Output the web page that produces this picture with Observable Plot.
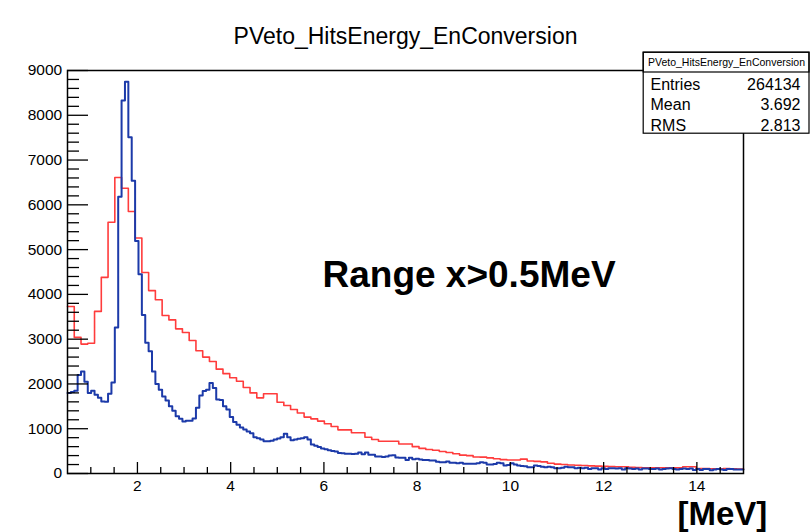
<!DOCTYPE html>
<html><head><meta charset="utf-8">
<script src="https://cdn.jsdelivr.net/npm/d3@7"></script>
<script src="https://cdn.jsdelivr.net/npm/@observablehq/plot@0.6"></script>
<style>body{margin:0;background:#fff;} #chart svg{overflow:visible;}</style>
</head><body><div id="chart"></div>
<script>
const title = "PVeto_HitsEnergy_EnConversion";
const xMin = 0.5, xMax = 15;
const redCounts = [3730,3040,2890,2910,3620,4380,5610,6610,6370,5850,
5260,4490,4085,3880,3530,3430,3230,3150,2970,2740,
2600,2500,2330,2230,2140,2060,1920,1800,1690,1780,
1780,1590,1520,1430,1350,1260,1220,1170,1110,1050,
975,975,910,910,810,760,720,720,720,660,
660,600,560,535,520,490,470,440,410,400,
370,365,350,330,310,300,300,320,280,270,
260,230,210,200,190,185,180,170,165,160,
155,150,150,140,135,130,130,130,130,125,
125,150,150,110,110,105,105,110,105,100];
const blueCounts = [1800,1820,1850,2200,2280,2050,1800,1850,1760,1690,
1610,1600,1780,2030,3260,6180,8330,8750,7510,6540,
5190,4450,3540,2920,2730,2280,2000,1870,1720,1630,
1500,1400,1280,1220,1160,1180,1180,1230,1470,1740,
1840,1870,2020,1910,1650,1640,1500,1430,1260,1150,
1090,1030,980,940,900,810,790,760,720,720,
730,760,780,810,885,810,740,760,775,790,
810,760,650,620,590,560,540,520,500,490,
460,450,440,440,435,440,470,430,470,420,
420,380,380,370,380,400,410,360,350,350,
300,350,320,330,310,300,300,290,290,260,
250,250,270,240,240,230,240,220,215,215,
215,230,250,240,200,200,210,240,230,180,
190,230,200,180,170,160,140,140,180,170,
150,140,150,140,120,120,130,150,140,140,
120,130,120,130,100,120,120,90,120,100,
120,120,110,120,90,120,110,100,110,90,
110,110,100,100,110,90,100,110,120,100,
90,100,110,100,110,80,100,80,100,100,
70,90,100,90,80,100,100,90,90,90];
const yMajorTicks = [0,1000,2000,3000,4000,5000,6000,7000,8000,9000];
const xMajorTicks = [2,4,6,8,10,12,14];
const statsLabels = ["Entries","Mean","RMS"];
const statsValues = ["264134","3.692","2.813"];
const annotation = "Range x>0.5MeV";
const unitLabel = "[MeV]";

const yMinorTicks = d3.range(0, 9001, 200).filter(v => v % 1000 !== 0);
const xMinorTicks = d3.range(1, 15, 0.5).filter(v => v % 2 !== 0);

function toSteps(counts) {
  const w = (xMax - xMin) / counts.length;
  const pts = counts.map((c, i) => ({x: xMin + i * w, y: c}));
  pts.push({x: xMax, y: counts[counts.length - 1]});
  return pts;
}
const redSteps = toSteps(redCounts);
const blueSteps = toSteps(blueCounts);

const font = "'Liberation Sans', Arial, Helvetica, sans-serif";
const rowBaselines = [89, 109.5, 130];

const chart = Plot.plot({
  width: 810, height: 532,
  marginLeft: 67, marginRight: 67, marginTop: 70, marginBottom: 59,
  style: {fontFamily: font, background: "white", color: "black"},
  x: {domain: [xMin, xMax]},
  y: {domain: [0, 9000]},
  marks: [
    Plot.lineY(redSteps, {x: "x", y: "y", curve: "step-after", stroke: "#ff3c3c", strokeWidth: 1.6}),
    Plot.lineY(blueSteps, {x: "x", y: "y", curve: "step-after", stroke: "#1c3aa9", strokeWidth: 2}),
    Plot.axisY(yMajorTicks, {anchor: "left", tickSize: -21, tickPadding: 26.3, tickFormat: "d", fontSize: 15.5, stroke: "black", strokeWidth: 1.3, fill: "black", label: null}),
    Plot.axisY(yMinorTicks, {anchor: "left", tickSize: -12, tickFormat: null, text: null, stroke: "black", strokeWidth: 1.3, label: null}),
    Plot.axisX(xMajorTicks, {anchor: "bottom", tickSize: -11, tickPadding: 17, tickFormat: "d", fontSize: 15.5, stroke: "black", strokeWidth: 1.3, fill: "black", label: null}),
    Plot.axisX(xMinorTicks, {anchor: "bottom", tickSize: -6, tickFormat: null, text: null, stroke: "black", strokeWidth: 1.3, label: null}),
    Plot.frame({stroke: "black", strokeWidth: 1.5}),
    // stats box
    Plot.frame({fill: "white", stroke: "black", strokeWidth: 1.2, insetLeft: 575.7, insetTop: -18.3, insetRight: -65.5, insetBottom: 340.3}),
    Plot.frame({fill: "none", stroke: "black", strokeWidth: 1.2, insetLeft: 575.7, insetTop: -18.3, insetRight: -65.5, insetBottom: 401.5}),
    Plot.text([title], {frameAnchor: "top-left", dx: 659, dy: -4.3, textAnchor: "middle", lineAnchor: "bottom", fontSize: 10.5, fill: "black"}),
    ...statsLabels.map((s, i) => Plot.text([s], {frameAnchor: "top-left", dx: 583, dy: rowBaselines[i] - 70, textAnchor: "start", lineAnchor: "bottom", fontSize: 16, fill: "black"})),
    ...statsValues.map((s, i) => Plot.text([s], {frameAnchor: "top-left", dx: 733, dy: rowBaselines[i] - 70, textAnchor: "end", lineAnchor: "bottom", fontSize: 16, fill: "black"})),
    // title
    Plot.text([title], {frameAnchor: "top", dy: -26.7, lineAnchor: "bottom", fontSize: 23, fill: "black"}),
    // annotation
    Plot.text([annotation], {frameAnchor: "top-left", dx: 255, dy: 216, textAnchor: "start", lineAnchor: "bottom", fontSize: 37, fontWeight: "bold", fill: "black"}),
    Plot.text([unitLabel], {frameAnchor: "bottom-right", dx: -66, dy: 51.5, textAnchor: "start", lineAnchor: "bottom", fontSize: 33, fontWeight: "bold", fill: "black"})
  ]
});
document.getElementById("chart").appendChild(chart);
</script>
</body></html>
